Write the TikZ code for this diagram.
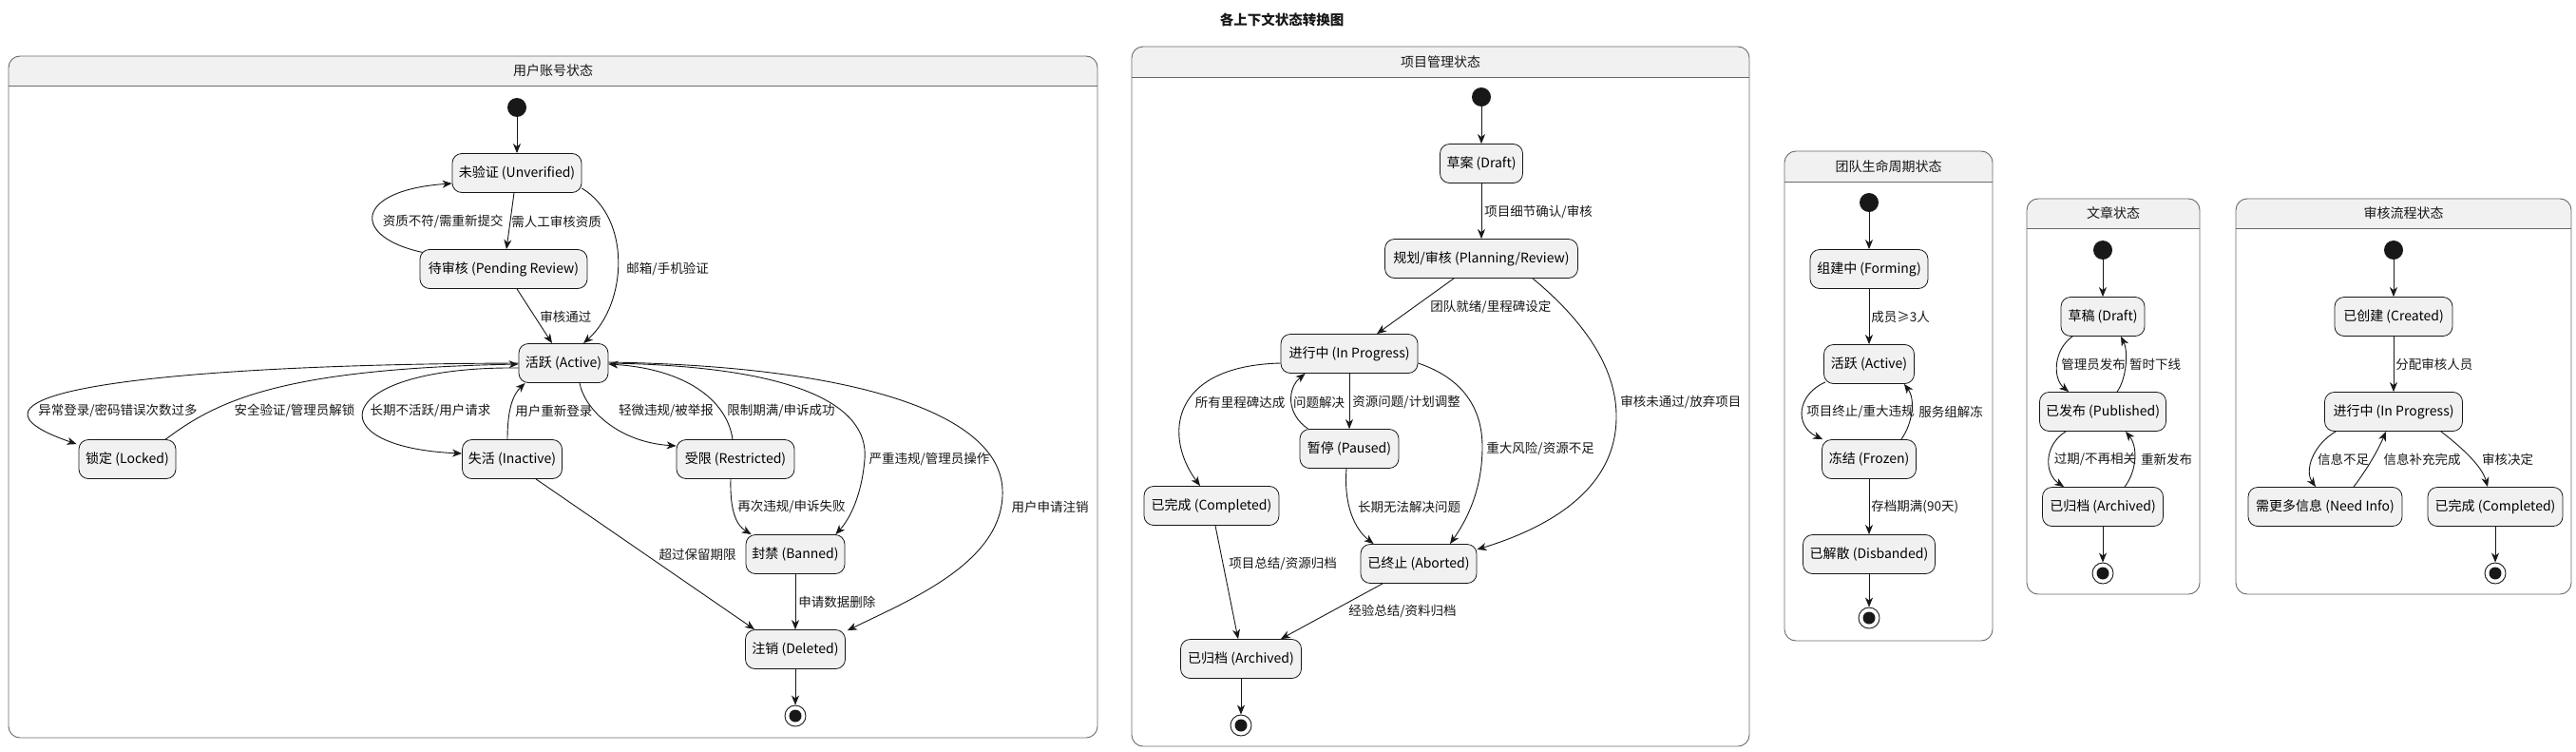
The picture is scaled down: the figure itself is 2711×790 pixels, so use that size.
\documentclass[tikz,border=0pt]{standalone}
\usepackage{fontspec}
\setmainfont{Noto Sans CJK SC}
\usetikzlibrary{arrows.meta,calc}
\definecolor{nodefill}{HTML}{F1F1F1}
\definecolor{ln}{HTML}{181818}
\definecolor{clus}{HTML}{6A6A6A}
\newcommand\nodefont{\fontsize{14pt}{16pt}\selectfont}
\newcommand\lblfont{\fontsize{13.5pt}{16pt}\selectfont}
\newcommand\ttlfont{\fontsize{14.5pt}{17pt}\selectfont\bfseries}
\pgfdeclarelayer{back}
\pgfdeclarelayer{mid}
\pgfsetlayers{back,mid,main}
\tikzset{
  st/.style={draw=ln, fill=nodefill, rounded corners=10pt, minimum height=41pt, inner xsep=4pt, line width=0.8pt, font=\nodefont},
  ini/.style={circle, fill=ln, minimum size=20pt, inner sep=0pt},
  fin/.style={circle, draw=ln, line width=0.9pt, fill=white, minimum size=22pt, inner sep=0pt,
    path picture={\fill[ln] (path picture bounding box.center) circle (6.5pt);}},
  tr/.style={draw=ln, line width=0.9pt, -{Stealth[length=10pt,width=8pt,inset=3pt]}},
  lb/.style={font=\lblfont, inner sep=1pt, text=ln},
  clusterline/.style={draw=clus, line width=0.9pt},
}
\newcommand\mycluster[7]{%
  \begin{scope}
    \clip[rounded corners=12pt] (#1,#2) rectangle (#3,#4);
    \fill[white] (#1,#2) rectangle (#3,#4);
    \fill[nodefill] (#1,#2) rectangle (#3,#5);
  \end{scope}
  \draw[clusterline, rounded corners=12pt] (#1,#2) rectangle (#3,#4);
  \draw[clusterline] (#1,#5) -- (#3,#5);
  \node[font=\nodefont, text=ln] (#6) at ({(#1+#3)/2},{(#2+#5)/2}) {#7};
}
\begin{document}
\begin{tikzpicture}[x=1pt,y=-1pt]
\useasboundingbox (0,0) rectangle (2711,790);
\begin{pgfonlayer}{back}
  \fill[white] (0,0) rectangle (2711,790);
  \mycluster{9}{59}{1155}{776}{90}{c1}{用户账号状态}
  \mycluster{1191}{49}{1841}{785}{81}{c2}{项目管理状态}
  \mycluster{1878}{159}{2097}{674}{191}{c3}{团队生命周期状态}
  \mycluster{2133}{209}{2315}{625}{240}{c4}{文章状态}
  \mycluster{2353}{209}{2706}{625}{240}{c5}{审核流程状态}
\end{pgfonlayer}
\node[font=\ttlfont, text=ln] (title) at (1349,21) {各上下文状态转换图};

% ---------- cluster 1 ----------
\node[ini] (uinit) at (544,113) {};
\node[st, minimum width=136pt] (unver) at (544,182) {未验证 (Unverified)};
\node[st, minimum width=176pt] (pend) at (530,283) {待审核 (Pending Review)};
\node[st, minimum width=94pt] (uact) at (593,382) {活跃 (Active)};
\node[st, minimum width=102pt] (locked) at (134,483) {锁定 (Locked)};
\node[st, minimum width=105pt] (inact) at (539,483) {失活 (Inactive)};
\node[st, minimum width=124pt] (restr) at (774,483) {受限 (Restricted)};
\node[st, minimum width=104pt] (banned) at (837,583) {封禁 (Banned)};
\node[st, minimum width=105pt] (deleted) at (837,683) {注销 (Deleted)};
\node[fin] (ufin) at (837,753) {};

% ---------- cluster 2 ----------
\node[ini] (pinit) at (1559,102) {};
\node[st, minimum width=87pt] (pdraft) at (1559,172) {草案 (Draft)};
\node[st, minimum width=203pt] (pplan) at (1559,272) {规划/审核 (Planning/Review)};
\node[st, minimum width=144pt] (pprog) at (1420,372) {进行中 (In Progress)};
\node[st, minimum width=104pt] (ppause) at (1420,472) {暂停 (Paused)};
\node[st, minimum width=142pt] (pcomp) at (1275,532) {已完成 (Completed)};
\node[st, minimum width=122pt] (pabort) at (1493,593) {已终止 (Aborted)};
\node[st, minimum width=127pt] (parch) at (1306,693) {已归档 (Archived)};
\node[fin] (pfin) at (1306,763) {};

% ---------- cluster 3 ----------
\node[ini] (tinit) at (1967,213) {};
\node[st, minimum width=124pt] (tform) at (1967,283) {组建中 (Forming)};
\node[st, minimum width=95pt] (tact) at (1967,383) {活跃 (Active)};
\node[st, minimum width=99pt] (tfroz) at (1967,483) {冻结 (Frozen)};
\node[st, minimum width=139pt] (tdisb) at (1967,583) {已解散 (Disbanded)};
\node[fin] (tfin) at (1967,650) {};

% ---------- cluster 4 ----------
\node[ini] (ainit) at (2213,263) {};
\node[st, minimum width=88pt] (adraft) at (2213,333) {草稿 (Draft)};
\node[st, minimum width=133pt] (apub) at (2213,433) {已发布 (Published)};
\node[st, minimum width=127pt] (aarch) at (2213,533) {已归档 (Archived)};
\node[fin] (afin) at (2213,603) {};

% ---------- cluster 5 ----------
\node[ini] (rinit) at (2519,263) {};
\node[st, minimum width=124pt] (rcre) at (2519,333) {已创建 (Created)};
\node[st, minimum width=145pt] (rprog) at (2519,433) {进行中 (In Progress)};
\node[st, minimum width=162pt] (rneed) at (2447,533) {需更多信息 (Need Info)};
\node[st, minimum width=142pt] (rcomp) at (2626,533) {已完成 (Completed)};
\node[fin] (rfin) at (2626,603) {};

\begin{pgfonlayer}{mid}
% cluster 1 edges
\draw[tr] (uinit) -- (unver);
\draw[tr] ($(unver.south)+(-3,0)$) -- ($(pend.north)+(3,0)$)
  node[lb, anchor=west] (lu2) at (537,233) {需人工审核资质};
\draw[tr] ($(pend.north west)+(6,4)$) .. controls (368,250) and (372,200) .. ($(unver.west)+(0,11)$)
  node[lb, anchor=east] (lu1) at (531,233) {资质不符/需重新提交};
\draw[tr] ($(unver.east)+(0,16)$) .. controls (665,230) and (660,320) .. ($(uact.north)+(21,0)$)
  node[lb, anchor=west] (lu3) at (658,283) {邮箱/手机验证};
\draw[tr] ($(pend.south)+(14,0)$) -- ($(uact.north)+(-12,0)$)
  node[lb, anchor=west] (lu4) at (567,333) {审核通过};
\draw[tr] (uact.west) .. controls (200,383) and (-85,410) .. ($(locked.north west)+(-2,5)$)
  node[lb] (lu5) at (124,432) {异常登录/密码错误次数过多};
\draw[tr] ($(locked.north east)+(-11,0)$) .. controls (230,420) and (300,388) .. ($(uact.west)+(0,1)$)
  node[lb] (lu6) at (310,432) {安全验证/管理员解锁};
\draw[tr] ($(uact.west)+(0,5)$) .. controls (350,385) and (330,470) .. ($(inact.west)+(0,-6)$)
  node[lb] (lu7) at (453,432) {长期不活跃/用户请求};
\draw[tr] ($(inact.north)+(-5,0)$) .. controls (534,430) and (540,415) .. ($(uact.south west)+(7,0)$)
  node[lb, anchor=west] (lu8) at (541,432) {用户重新登录};
\draw[tr] ($(uact.south)+(17,0)$) .. controls (615,430) and (650,465) .. ($(restr.west)+(0,-14)$)
  node[lb] (lu9) at (701,432) {轻微违规/被举报};
\draw[tr] ($(restr.north)+(-3,0)$) .. controls (765,420) and (720,388) .. ($(uact.east)+(0,1)$)
  node[lb] (lu10) at (822,432) {限制期满/申诉成功};
\draw[tr] (uact.east) .. controls (835,385) and (915,425) .. (910,483)
  .. controls (907,520) and (895,545) .. ($(banned.north east)+(-10,0)$)
  node[lb] (lu11) at (978,483) {严重违规/管理员操作};
\draw[tr] ($(uact.east)+(0,-1)$) .. controls (900,385) and (1052,435) .. (1055,515)
  .. controls (1058,590) and (960,630) .. ($(deleted.north east)+(2,1)$)
  node[lb] (lu12) at (1105,533) {用户申请注销};
\draw[tr] ($(restr.south)+(-5,0)$) .. controls (768,540) and (776,553) .. ($(banned.north west)+(6,0)$)
  node[lb] (lu13) at (833,533) {再次违规/申诉失败};
\draw[tr] ($(inact.south)+(25,0)$) -- ($(deleted.north west)+(10,0)$)
  node[lb] (lu14) at (734,583) {超过保留期限};
\draw[tr] (banned) -- (deleted)
  node[lb, anchor=west] (lu15) at (839,633) {申请数据删除};
\draw[tr] (deleted) -- (ufin);

% cluster 2 edges
\draw[tr] (pinit) -- (pdraft);
\draw[tr] (pdraft) -- (pplan)
  node[lb, anchor=west] (lp1) at (1561,223) {项目细节确认/审核};
\draw[tr] ($(pplan.south)+(-29,0)$) -- ($(pprog.north)+(29,0)$)
  node[lb, anchor=west] (lp2) at (1504,323) {团队就绪/里程碑设定};
\draw[tr] ($(pplan.south)+(54,0)$) .. controls (1670,340) and (1702,390) .. (1701,440)
  .. controls (1700,520) and (1620,558) .. ($(pabort.east)+(0,-15)$)
  node[lb, anchor=west] (lp3) at (1704,423) {审核未通过/放弃项目};
\draw[tr] ($(pprog.west)+(0,10)$) .. controls (1230,385) and (1225,460) .. ($(pcomp.north)+(-12,0)$)
  node[lb] (lp4) at (1305,423) {所有里程碑达成};
\draw[tr] ($(ppause.north west)+(9,0)$) .. controls (1353,435) and (1355,408) .. ($(pprog.south west)+(26,0)$)
  node[lb] (lp5) at (1388,423) {问题解决};
\draw[tr] (pprog) -- (ppause)
  node[lb, anchor=west] (lp6) at (1422,423) {资源问题/计划调整};
\draw[tr] ($(pprog.east)+(0,10)$) .. controls (1540,398) and (1560,430) .. (1560,470)
  .. controls (1560,520) and (1540,552) .. ($(pabort.north)+(33,0)$)
  node[lb, anchor=west] (lp7) at (1563,472) {重大风险/资源不足};
\draw[tr] ($(ppause.south)+(-3,0)$) .. controls (1414,530) and (1425,556) .. ($(pabort.north west)+(14,0)$)
  node[lb] (lp8) at (1483,533) {长期无法解决问题};
\draw[tr] ($(pcomp.south)+(4,0)$) -- ($(parch.north)+(-3,0)$)
  node[lb, anchor=west] (lp9) at (1292,593) {项目总结/资源归档};
\draw[tr] ($(pabort.south)+(-38,0)$) -- ($(parch.north east)+(-22,0)$)
  node[lb] (lp10) at (1476,643) {经验总结/资料归档};
\draw[tr] (parch) -- (pfin);

% cluster 3 edges
\draw[tr] (tinit) -- (tform);
\draw[tr] (tform) -- (tact)
  node[lb, anchor=west] (lt1) at (1968,333) {成员≥3人};
\draw[tr] ($(tact.south west)+(2,-2)$) .. controls (1891,415) and (1888,448) .. ($(tfroz.north west)+(1,0)$)
  node[lb] (lt2) at (1958,433) {项目终止/重大违规};
\draw[tr] ($(tfroz.north east)+(-16,0)$) .. controls (2013,445) and (2016,420) .. ($(tact.south east)+(-11,0)$)
  node[lb] (lt3) at (2053,433) {服务组解冻};
\draw[tr] (tfroz) -- (tdisb)
  node[lb, anchor=west] (lt4) at (1968,533) {存档期满(90天)};
\draw[tr] (tdisb) -- (tfin);

% cluster 4 edges
\draw[tr] (ainit) -- (adraft);
\draw[tr] ($(adraft.south)+(-32,0)$) .. controls (2161,368) and (2160,398) .. ($(apub.north west)+(31,0)$)
  node[lb] (la1) at (2203,383) {管理员发布};
\draw[tr] ($(apub.north)+(15,0)$) .. controls (2238,398) and (2240,370) .. ($(adraft.south)+(19,0)$)
  node[lb] (la2) at (2268,383) {暂时下线};
\draw[tr] ($(apub.south)+(-39,0)$) .. controls (2151,468) and (2151,498) .. ($(aarch.north west)+(23,0)$)
  node[lb] (la3) at (2205,483) {过期/不再相关};
\draw[tr] ($(aarch.north)+(23,0)$) .. controls (2249,495) and (2250,470) .. ($(apub.south)+(24,0)$)
  node[lb] (la4) at (2280,483) {重新发布};
\draw[tr] (aarch) -- (afin);

% cluster 5 edges
\draw[tr] (rinit) -- (rcre);
\draw[tr] (rcre) -- (rprog)
  node[lb, anchor=west] (lr1) at (2520,383) {分配审核人员};
\draw[tr] ($(rprog.south west)+(12,0)$) .. controls (2434,468) and (2425,495) .. ($(rneed.north)+(-10,0)$)
  node[lb] (lr2) at (2466,483) {信息不足};
\draw[tr] ($(rneed.north)+(30,0)$) .. controls (2490,495) and (2502,475) .. ($(rprog.south)+(-8,0)$)
  node[lb] (lr3) at (2549,483) {信息补充完成};
\draw[tr] ($(rprog.south east)+(-23,0)$) .. controls (2590,470) and (2612,490) .. ($(rcomp.north)+(-8,0)$)
  node[lb] (lr4) at (2639,483) {审核决定};
\draw[tr] (rcomp) -- (rfin);
\end{pgfonlayer}
\end{tikzpicture}
\end{document}
